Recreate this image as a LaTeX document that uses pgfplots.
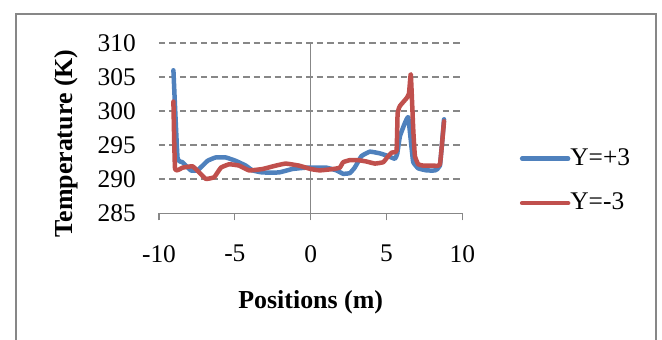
\documentclass[border=0pt]{standalone}
\usepackage{pgfplots}
\pgfplotsset{compat=1.18}
\usepackage{fontspec}
\setmainfont{Liberation Serif}
\definecolor{xlblue}{HTML}{4F81BD}
\definecolor{xlred}{HTML}{C0504D}
\definecolor{xlgray}{HTML}{878787}
\begin{document}
\fontsize{24.5}{29}\selectfont
\begin{tikzpicture}
\useasboundingbox (-159bp,-126.7bp) rectangle (503bp,213.3bp);
\draw[xlgray, line width=2bp] (-143bp,-140bp) -- (-143bp,199bp) -- (496.5bp,199bp) -- (496.5bp,-140bp);
\begin{axis}[
  scale only axis,
  width=303.4bp, height=170.3bp,
  xmin=-10, xmax=10, ymin=285, ymax=310,
  xtick={-10,-5,0,5,10},
  ytick={285,290,295,300,305,310},
  axis x line*=bottom,
  axis y line*=left,
  x axis line style={xlgray, line width=1.3bp, -},
  y axis line style={draw=none},
  xtick style={xlgray, line width=1.3bp},
  ytick style={draw=none},
  tick align=outside,
  major tick length=7bp,
  ymajorgrids,
  major grid style={xlgray, line width=1.5bp, dash pattern=on 6.5bp off 4bp},
  extra x ticks={0},
  extra x tick labels={},
  extra x tick style={grid=major, major grid style={xlgray, line width=1.3bp, solid}, major tick length=0pt},
  /pgf/number format/assume math mode=true,
  ticklabel style={font=\fontsize{25.5}{29}\selectfont},
  xticklabel style={anchor=north, inner sep=0pt, yshift=-24.7bp},
  yticklabel style={anchor=east, inner sep=0pt, xshift=-16bp},
  xlabel={\textbf{Positions (m)}},
  ylabel={\textbf{Temperature (K)}},
  label style={font=\fontsize{26}{29}\selectfont},
  xlabel style={at={(axis description cs:0.5,0)}, anchor=center, yshift=-88.7bp, inner sep=0pt},
  ylabel style={at={(axis description cs:0,0.41)}, anchor=center, yshift=93bp, inner sep=0pt},
  legend style={draw=none, fill=none, at={(axis description cs:1.1895,0.19)}, anchor=west, inner sep=0pt, outer sep=0pt, row sep=24bp, font=\fontsize{25.5}{29}\selectfont, nodes={inner sep=0pt}},
  legend cell align=left,
  /tikz/every even column/.append style={column sep=3bp},
  legend image code/.code={\draw[#1, line cap=round] (0bp,0bp) -- (46bp,0bp);},
  every axis plot/.append style={line width=4.5bp, line join=round, line cap=round},
  clip=false,
]
\addplot[xlblue, smooth, tension=0.2] coordinates {
(-9.05,306.0) (-8.78,293.2) (-8.45,292.5) (-7.9,291.3) (-7.46,291.3) (-6.8,292.7) (-6.26,293.2) (-5.6,293.2) (-4.94,292.7) (-4.28,292.0) (-3.84,291.3) (-3.19,291.0) (-2.09,291.0) (-1.21,291.5) (-0.33,291.7) (0.15,291.7) (1.04,291.7) (1.7,291.3) (2.14,290.8) (2.58,290.9) (2.9,291.7) (3.35,293.4) (3.9,294.05) (4.56,293.8) (5.1,293.4) (5.55,293.0) (5.7,293.7) (5.88,296.3) (6.2,298.2) (6.43,299.1) (6.65,294.6) (6.76,292.5) (7.09,291.6) (7.64,291.3) (8.19,291.3) (8.52,292.0) (8.79,298.8)
};
\addlegendentry{Y=+3}
\addplot[xlred, smooth, tension=0.2] coordinates {
(-9.05,301.4) (-8.94,291.5) (-8.45,291.7) (-7.79,291.9) (-7.35,291.0) (-6.91,290.05) (-6.36,290.3) (-5.92,291.7) (-5.37,292.2) (-4.72,292.0) (-4.06,291.3) (-3.18,291.5) (-2.3,292.0) (-1.64,292.3) (-0.77,292.0) (0.0,291.5) (0.6,291.3) (1.48,291.5) (1.92,291.7) (2.14,292.5) (2.58,292.8) (3.13,292.8) (3.68,292.6) (4.23,292.3) (4.78,292.5) (5.04,293.2) (5.33,293.9) (5.66,294.2) (5.73,299.7) (5.88,300.75) (6.32,301.9) (6.48,302.6) (6.6,305.4) (6.76,297.3) (6.87,293.4) (7.09,292.2) (7.42,292.0) (8.08,292.0) (8.52,292.2) (8.79,298.5)
};
\addlegendentry{Y=-3}
\end{axis}
\end{tikzpicture}
\end{document}
